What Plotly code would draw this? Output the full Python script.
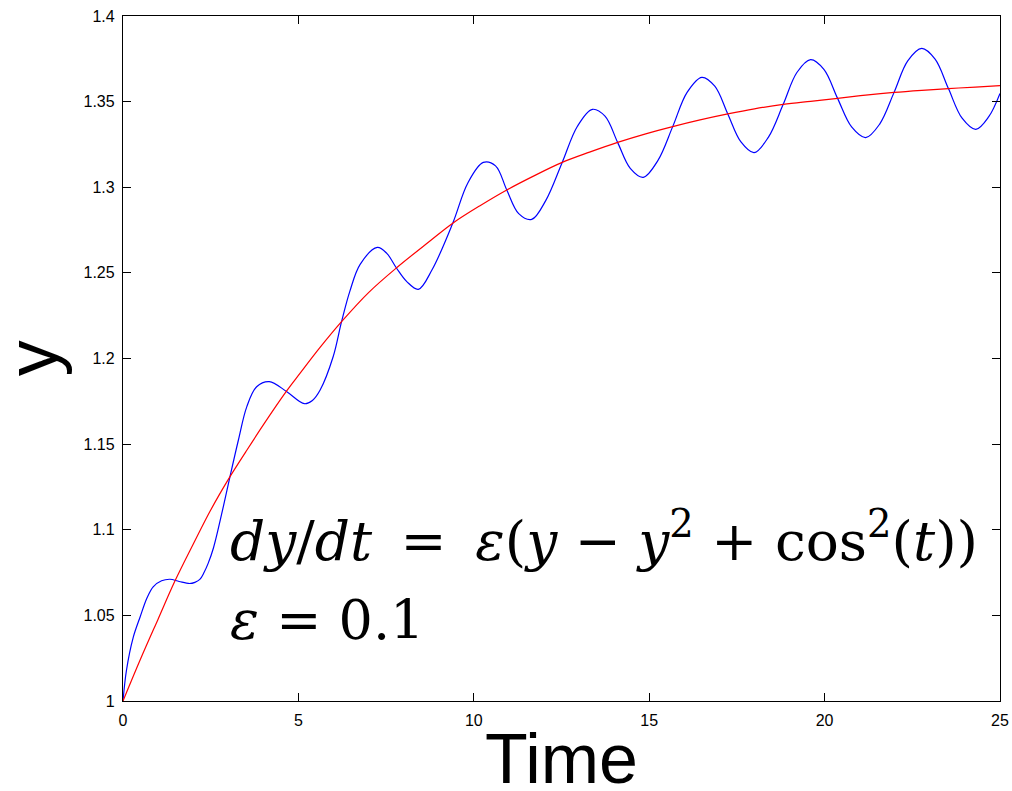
import plotly.graph_objects as go

# ── Data ──────────────────────────────────────────────────────────────────────
t_full = [0.00, 0.10, 0.29, 0.49, 0.68, 0.86, 1.10, 1.34, 1.60, 1.90, 2.05, 2.19, 2.31,
          2.43, 2.58, 2.86, 3.05, 3.29, 3.53, 3.81, 4.17, 4.67, 5.17, 5.40, 5.62, 5.99,
          6.23, 6.47, 6.76, 7.25, 7.52, 7.80, 8.09, 8.42, 8.81, 9.40, 9.83, 10.27, 10.62,
          10.94, 11.28, 11.65, 12.05, 12.52, 12.95, 13.38, 13.74, 14.10, 14.46, 14.83,
          15.25, 15.67, 16.08, 16.50, 16.87, 17.24, 17.61, 17.99, 18.40, 18.82, 19.21,
          19.60, 19.98, 20.37, 20.77, 21.17, 21.57, 21.98, 22.37, 22.77, 23.15, 23.53,
          23.92, 24.31, 24.68, 25.00]
y_full = [1.0000, 1.0181, 1.0370, 1.0492, 1.0600, 1.0667, 1.0702, 1.0711, 1.0698, 1.0686,
          1.0693, 1.0710, 1.0750, 1.0805, 1.0895, 1.1135, 1.1310, 1.1524, 1.1719, 1.1835,
          1.1865, 1.1806, 1.1736, 1.1755, 1.1816, 1.2010, 1.2215, 1.2395, 1.2550, 1.2649,
          1.2614, 1.2527, 1.2449, 1.2404, 1.2518, 1.2790, 1.3025, 1.3145, 1.3125, 1.2984,
          1.2846, 1.2812, 1.2922, 1.3145, 1.3355, 1.3455, 1.3415, 1.3262, 1.3110, 1.3058,
          1.3157, 1.3354, 1.3554, 1.3642, 1.3590, 1.3428, 1.3266, 1.3202, 1.3293, 1.3484,
          1.3670, 1.3745, 1.3688, 1.3519, 1.3352, 1.3290, 1.3369, 1.3554, 1.3738, 1.3811,
          1.3748, 1.3576, 1.3403, 1.3338, 1.3412, 1.3548]

t_avg = [0.00, 0.50, 1.00, 1.48, 2.00, 2.50, 3.05, 3.50, 4.00, 4.65, 5.05, 5.60, 6.23,
         7.00, 7.80, 8.75, 9.40, 10.20, 10.94, 11.70, 12.52, 13.30, 14.10, 14.90, 15.67,
         16.45, 17.24, 18.00, 18.82, 19.60, 20.37, 21.17, 21.98, 22.77, 23.53, 24.30, 25.00]
y_avg = [1.0000, 1.0245, 1.0478, 1.0700, 1.0915, 1.1115, 1.1310, 1.1455, 1.1612, 1.1806,
         1.1914, 1.2060, 1.2215, 1.2385, 1.2530, 1.2686, 1.2790, 1.2895, 1.2984, 1.3065,
         1.3145, 1.3205, 1.3262, 1.3312, 1.3354, 1.3393, 1.3428, 1.3458, 1.3484, 1.3502,
         1.3519, 1.3538, 1.3554, 1.3566, 1.3576, 1.3585, 1.3593]

x_ticks = [0, 5, 10, 15, 20, 25]
y_ticks = [1, 1.05, 1.1, 1.15, 1.2, 1.25, 1.3, 1.35, 1.4]
y_tick_text = ["1", "1.05", "1.1", "1.15", "1.2", "1.25", "1.3", "1.35", "1.4"]

# ── Figure ────────────────────────────────────────────────────────────────────
fig = go.Figure()
fig.add_trace(go.Scatter(x=t_full, y=y_full, mode="lines",
                         line=dict(color="#0000ff", width=1.2, shape="spline", smoothing=1.0)))
fig.add_trace(go.Scatter(x=t_avg, y=y_avg, mode="lines",
                         line=dict(color="#ff0000", width=1.2, shape="spline", smoothing=1.0)))

axis_common = dict(showline=True, linecolor="black", linewidth=1.3, mirror="ticks",
                   ticks="inside", ticklen=8, tickcolor="black", tickwidth=1,
                   showgrid=False, zeroline=False, automargin=False,
                   ticklabeloverflow="allow",
                   tickfont=dict(family="Liberation Sans, Arial", size=16, color="black"))

fig.update_xaxes(range=[0, 25], tickvals=x_ticks, ticklabelstandoff=5, **axis_common)
fig.update_yaxes(range=[1, 1.4], tickvals=y_ticks, ticktext=y_tick_text,
                 ticklabelstandoff=4, **axis_common)

serif = "DejaVu Serif"
sp = "\u2009"  # thin space around '=' like the TeX original
eq_text = (f"<i>dy</i>/<i>dt</i>{sp} = {sp}<i>ε</i>(<i>y</i> − <i>y</i><sup>2</sup>"
           f" + cos<sup>2</sup>(<i>t</i>))")
fig.add_annotation(
    text=eq_text,
    xref="paper", yref="paper", x=0.1197, y=0.240, xanchor="left", yanchor="middle",
    showarrow=False, font=dict(family=serif, size=55, color="black"))
fig.add_annotation(
    text="<i>ε</i> = 0.1",
    xref="paper", yref="paper", x=0.1197, y=0.117, xanchor="left", yanchor="middle",
    showarrow=False, font=dict(family=serif, size=54, color="black"))

fig.add_annotation(text="Time", xref="paper", yref="paper", x=0.5, y=-0.084,
                   xanchor="center", yanchor="middle", showarrow=False,
                   font=dict(family="Liberation Sans, Arial", size=70, color="black"))
fig.add_annotation(text="y", xref="paper", yref="paper", x=-0.104, y=0.5,
                   xanchor="center", yanchor="middle", textangle=-90, showarrow=False,
                   font=dict(family="Liberation Sans, Arial", size=72, color="black"))

fig.update_layout(
    width=1012, height=791,
    margin=dict(l=123, r=12, t=16, b=90),
    plot_bgcolor="white", paper_bgcolor="white",
    showlegend=False,
)

# drop the default 8px page margin so the figure fills the window exactly
fig.write_html("out.html", config={"displayModeBar": False},
               post_script="document.body.style.margin='0';document.body.style.overflow='hidden';")
